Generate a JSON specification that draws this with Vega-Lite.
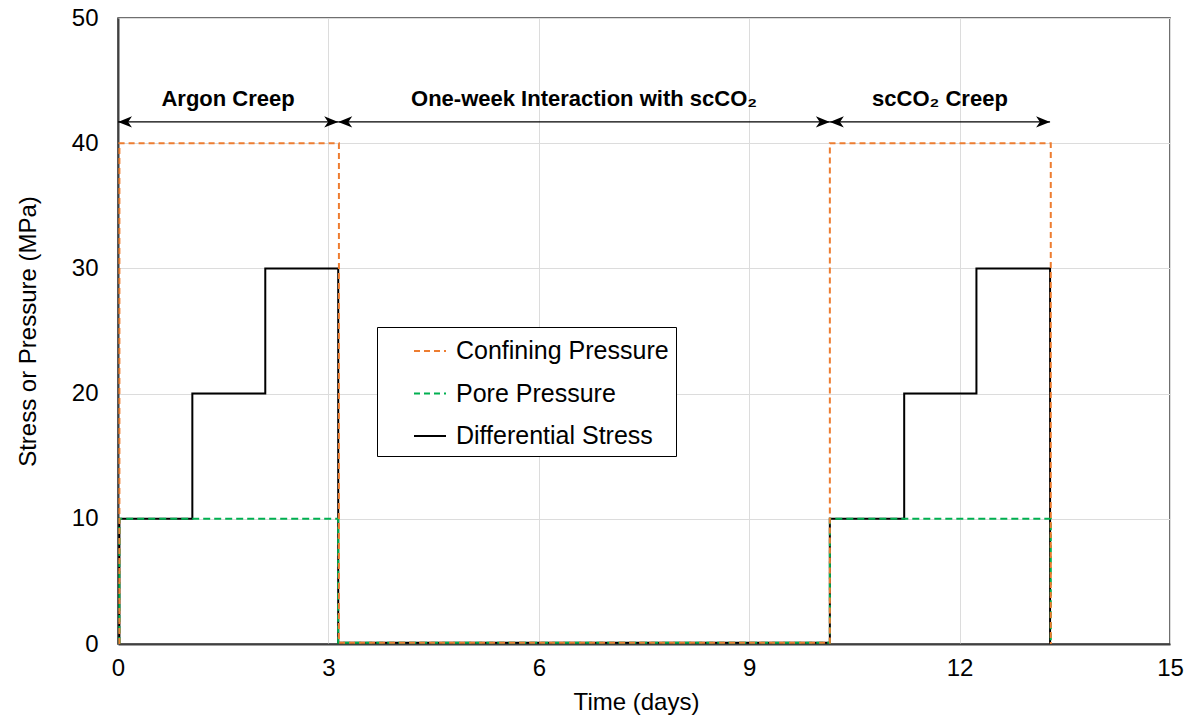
{
  "$schema": "https://vega.github.io/schema/vega-lite/v6.json",
  "autosize": {"type": "none"},
  "width": 1052,
  "height": 626,
  "padding": {"left": 118, "top": 18, "right": 26, "bottom": 72},
  "background": "white",
  "config": {
    "font": "Liberation Sans",
    "view": {"stroke": "#404040", "strokeWidth": 1.5},
    "axis": {
      "labelFont": "Liberation Sans",
      "titleFont": "Liberation Sans",
      "labelFontSize": 24,
      "titleFontSize": 24,
      "titleFontWeight": "normal",
      "labelColor": "#000000",
      "titleColor": "#000000",
      "gridColor": "#dcdcdc",
      "gridWidth": 1,
      "domainColor": "#404040",
      "domainWidth": 2,
      "ticks": false
    }
  },
  "datasets": {
    "lines": [
      {"series": "Differential Stress", "step": 1, "day": 0.02, "value": 0},
      {"series": "Differential Stress", "step": 2, "day": 0.02, "value": 10},
      {"series": "Differential Stress", "step": 3, "day": 1.06, "value": 10},
      {"series": "Differential Stress", "step": 4, "day": 1.06, "value": 20},
      {"series": "Differential Stress", "step": 5, "day": 2.1, "value": 20},
      {"series": "Differential Stress", "step": 6, "day": 2.1, "value": 30},
      {"series": "Differential Stress", "step": 7, "day": 3.14, "value": 30},
      {"series": "Differential Stress", "step": 8, "day": 3.14, "value": 0.1},
      {"series": "Differential Stress", "step": 9, "day": 10.15, "value": 0.1},
      {"series": "Differential Stress", "step": 10, "day": 10.15, "value": 10},
      {"series": "Differential Stress", "step": 11, "day": 11.21, "value": 10},
      {"series": "Differential Stress", "step": 12, "day": 11.21, "value": 20},
      {"series": "Differential Stress", "step": 13, "day": 12.24, "value": 20},
      {"series": "Differential Stress", "step": 14, "day": 12.24, "value": 30},
      {"series": "Differential Stress", "step": 15, "day": 13.29, "value": 30},
      {"series": "Differential Stress", "step": 16, "day": 13.29, "value": 0},

      {"series": "Pore Pressure", "step": 1, "day": 0.02, "value": 0},
      {"series": "Pore Pressure", "step": 2, "day": 0.02, "value": 10},
      {"series": "Pore Pressure", "step": 3, "day": 3.14, "value": 10},
      {"series": "Pore Pressure", "step": 4, "day": 3.14, "value": 0.1},
      {"series": "Pore Pressure", "step": 5, "day": 10.15, "value": 0.1},
      {"series": "Pore Pressure", "step": 6, "day": 10.15, "value": 10},
      {"series": "Pore Pressure", "step": 7, "day": 13.3, "value": 10},
      {"series": "Pore Pressure", "step": 8, "day": 13.3, "value": 0},

      {"series": "Confining Pressure", "step": 1, "day": 0.02, "value": 0},
      {"series": "Confining Pressure", "step": 2, "day": 0.02, "value": 40},
      {"series": "Confining Pressure", "step": 3, "day": 3.15, "value": 40},
      {"series": "Confining Pressure", "step": 4, "day": 3.15, "value": 0.1},
      {"series": "Confining Pressure", "step": 5, "day": 10.15, "value": 0.1},
      {"series": "Confining Pressure", "step": 6, "day": 10.15, "value": 40},
      {"series": "Confining Pressure", "step": 7, "day": 13.3, "value": 40},
      {"series": "Confining Pressure", "step": 8, "day": 13.3, "value": 0}
    ],
    "phases": [
      {"phase": "Argon Creep", "start": 0, "end": 3.14, "mid": 1.57, "arrowLevel": 41.7, "labelLevel": 43.5},
      {"phase": "One-week Interaction with scCO₂", "start": 3.14, "end": 10.15, "mid": 6.645, "arrowLevel": 41.7, "labelLevel": 43.5},
      {"phase": "scCO₂ Creep", "start": 10.15, "end": 13.29, "mid": 11.72, "arrowLevel": 41.7, "labelLevel": 43.5}
    ]
  },
  "layer": [
    {
      "data": {"name": "lines"},
      "transform": [{"filter": "datum.series === 'Differential Stress'"}],
      "mark": {"type": "line", "strokeWidth": 2, "clip": true},
      "encoding": {
        "x": {
          "field": "day",
          "type": "quantitative",
          "scale": {"domain": [0, 15], "nice": false, "zero": false},
          "axis": {"title": "Time (days)", "values": [0, 3, 6, 9, 12, 15], "format": "d", "labelPadding": 12, "titlePadding": 10, "titleX": 518, "labelFlush": false}
        },
        "y": {
          "field": "value",
          "type": "quantitative",
          "scale": {"domain": [0, 50], "nice": false},
          "axis": {"title": "Stress or Pressure (MPa)", "values": [0, 10, 20, 30, 40, 50], "format": "d", "labelPadding": 20, "titlePadding": 31, "labelFlush": false}
        },
        "order": {"field": "step", "type": "quantitative"},
        "color": {"field": "series", "type": "nominal"}
      }
    },
    {
      "data": {"name": "lines"},
      "transform": [{"filter": "datum.series === 'Pore Pressure'"}],
      "mark": {"type": "line", "strokeWidth": 2, "strokeDash": [7, 4], "clip": true},
      "encoding": {
        "x": {"field": "day", "type": "quantitative"},
        "y": {"field": "value", "type": "quantitative"},
        "order": {"field": "step", "type": "quantitative"},
        "color": {"field": "series", "type": "nominal"}
      }
    },
    {
      "data": {"name": "lines"},
      "transform": [{"filter": "datum.series === 'Confining Pressure'"}],
      "mark": {"type": "line", "strokeWidth": 2, "strokeDash": [6, 4], "clip": true},
      "encoding": {
        "x": {"field": "day", "type": "quantitative"},
        "y": {"field": "value", "type": "quantitative"},
        "order": {"field": "step", "type": "quantitative"},
        "color": {
          "field": "series",
          "type": "nominal",
          "scale": {
            "domain": ["Confining Pressure", "Pore Pressure", "Differential Stress"],
            "range": ["#ED7D31", "#00B050", "#000000"]
          },
          "legend": {
            "title": null,
            "orient": "none",
            "legendX": 259,
            "legendY": 309,
            "direction": "vertical",
            "symbolType": "stroke",
            "symbolSize": 1024,
            "symbolStrokeWidth": 2,
            "symbolOffset": 29,
            "labelOffset": 9,
            "labelFont": "Liberation Sans",
            "labelFontSize": 25,
            "labelColor": "#000000",
            "labelLimit": 400,
            "labelExpr": "datum.label + '\u00a0\u00a0\u00a0\u00a0\u00a0\u00a0\u00a0\u00a0\u00a0'",
            "rowPadding": 12.5,
            "padding": 7,
            "strokeColor": "#000000",
            "fillColor": "#ffffff",
            "cornerRadius": 0,
            "encode": {
              "legend": {"update": {"strokeWidth": {"value": 1}}},
              "symbols": {
                "update": {
                  "strokeDash": {"signal": "datum.value === 'Differential Stress' ? [1, 0] : [6, 4]"}
                }
              }
            }
          }
        }
      }
    },
    {
      "data": {"name": "phases"},
      "mark": {"type": "rule", "color": "#000000", "strokeWidth": 1.3},
      "encoding": {
        "x": {"field": "start", "type": "quantitative"},
        "x2": {"field": "end"},
        "y": {"field": "arrowLevel", "type": "quantitative"}
      }
    },
    {
      "data": {"name": "phases"},
      "mark": {"type": "point", "shape": "M0,0L2,-0.8L1.45,0L2,0.8Z", "size": 196, "filled": true, "color": "#000000", "opacity": 1, "strokeWidth": 0},
      "encoding": {
        "x": {"field": "start", "type": "quantitative"},
        "y": {"field": "arrowLevel", "type": "quantitative"}
      }
    },
    {
      "data": {"name": "phases"},
      "mark": {"type": "point", "shape": "M0,0L-2,-0.8L-1.45,0L-2,0.8Z", "size": 196, "filled": true, "color": "#000000", "opacity": 1, "strokeWidth": 0},
      "encoding": {
        "x": {"field": "end", "type": "quantitative"},
        "y": {"field": "arrowLevel", "type": "quantitative"}
      }
    },
    {
      "data": {"name": "phases"},
      "mark": {"type": "text", "font": "Liberation Sans", "fontSize": 22, "fontWeight": "bold", "color": "#000000", "baseline": "middle", "align": "center"},
      "encoding": {
        "x": {"field": "mid", "type": "quantitative"},
        "y": {"field": "labelLevel", "type": "quantitative"},
        "text": {"field": "phase", "type": "nominal"}
      }
    }
  ]
}
